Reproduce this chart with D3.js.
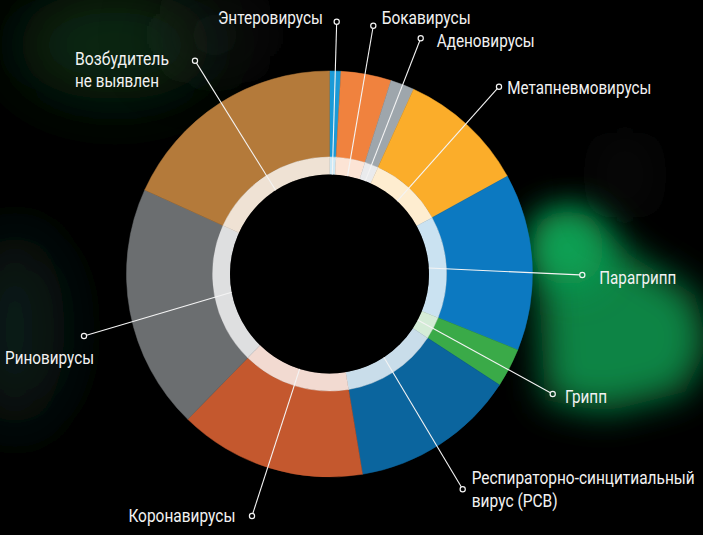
<!DOCTYPE html>
<html><head><meta charset="utf-8">
<script src="https://cdn.jsdelivr.net/npm/d3@7"></script>
<style>html,body{margin:0;padding:0;background:#000;overflow:hidden}</style>
</head><body>
<svg id="c" width="703" height="535"></svg>
<script>
const categories = ["Энтеровирусы","Бокавирусы","Аденовирусы","Метапневмовирусы","Парагрипп","Грипп","Респираторно-синцитиальный вирус (РСВ)","Коронавирусы","Риновирусы","Возбудитель не выявлен"];
const shares = [0.9, 4.0, 1.9, 10.2, 14.1, 3.1, 13.2, 14.9, 19.5, 18.2];
const colors = ["#1b9ad7","#f0823e","#9ea6ac","#fbad2a","#0c79c1","#3aaa48","#0b659e","#c4582e","#6b6e70","#b47a3a"];
const labelLines = [["Энтеровирусы"],["Бокавирусы"],["Аденовирусы"],["Метапневмовирусы"],["Парагрипп"],["Грипп"],["Респираторно-синцитиальный","вирус (РСВ)"],["Коронавирусы"],["Риновирусы"],["Возбудитель","не выявлен"]];
// label layout: marker centre, text position, anchor, line widths
const labelLayout = [
 {mx:336.7,my:21.7, tx:323,   ty:24,   anchor:"end",   w:[105]},
 {mx:373.3,my:25.7, tx:381.7, ty:24,   anchor:"start", w:[89]},
 {mx:420.7,my:38.3, tx:436.7, ty:46.5, anchor:"start", w:[98]},
 {mx:499,  my:86.7, tx:507.3, ty:94,   anchor:"start", w:[144]},
 {mx:582.3,my:275,  tx:599.3, ty:284,  anchor:"start", w:[77]},
 {mx:552.7,my:394,  tx:565,   ty:402.5,anchor:"start", w:[42]},
 {mx:462.7,my:489.3,tx:471.7, ty:484,  anchor:"start", w:[223,86]},
 {mx:252,  my:516,  tx:235.4, ty:521.5,anchor:"end",   w:[107]},
 {mx:84,   my:336,  tx:5,     ty:364,  anchor:"start", w:[89]},
 {mx:195,  my:60.7, tx:75,    ty:64.5, anchor:"start", w:[94,84]}
];

const W = 703, H = 535, cx = 329.5, cy = 274;
const rOuter = 203, rMid = 117, rInner = 99.5;
const svg = d3.select("#c");
svg.append("rect").attr("width", W).attr("height", H).attr("fill", "#000");

// background blurred blobs
const defs = svg.append("defs");
[["b1",18],["b2",32],["b3",26]].forEach(([id,s]) => {
  defs.append("filter").attr("id", id).attr("filterUnits","userSpaceOnUse")
    .attr("x",-200).attr("y",-200).attr("width",1100).attr("height",935)
    .append("feGaussianBlur").attr("stdDeviation", s);
});
const bg = svg.append("g");
bg.append("ellipse").attr("cx",115).attr("cy",45).attr("rx",100).attr("ry",55).attr("fill","#0a3219").attr("opacity",0.85).attr("filter","url(#b2)");
bg.append("ellipse").attr("cx",215).attr("cy",35).attr("rx",55).attr("ry",30).attr("fill","#1a1d1c").attr("opacity",0.7).attr("filter","url(#b2)");
bg.append("ellipse").attr("cx",15).attr("cy",330).attr("rx",50).attr("ry",100).attr("fill","#10241a").attr("opacity",0.85).attr("filter","url(#b2)");
bg.append("path").attr("d","M535,220 L590,212 L630,255 L695,295 L708,345 L685,392 L605,412 L545,400 Z").attr("fill","#0a8445").attr("filter","url(#b1)");
bg.append("ellipse").attr("cx",568).attr("cy",248).attr("rx",36).attr("ry",38).attr("fill","#10a255").attr("filter","url(#b1)");
bg.append("ellipse").attr("cx",625).attr("cy",175).attr("rx",18).attr("ry",45).attr("fill","#1c1e1e").attr("opacity",0.6).attr("filter","url(#b3)");

const g = svg.append("g").attr("transform", `translate(${cx},${cy})`);
const pie = d3.pie().sort(null).value(d => d)(shares);
const arcOuter = d3.arc().innerRadius(rMid).outerRadius(rOuter);
const arcRing = d3.arc().innerRadius(rInner).outerRadius(rMid);
g.selectAll("path.seg").data(pie).join("path").attr("class","seg")
  .attr("d", arcOuter).attr("fill", (d,i) => colors[i])
  .attr("stroke", (d,i) => colors[i]).attr("stroke-width", 0.5);
g.selectAll("path.ring").data(pie).join("path").attr("class","ring")
  .attr("d", arcRing).attr("fill", (d,i) => d3.interpolateRgb(colors[i], "#ffffff")(0.78))
  .attr("stroke", (d,i) => d3.interpolateRgb(colors[i], "#ffffff")(0.78)).attr("stroke-width", 0.5);
g.append("circle").attr("r", rInner).attr("fill", "#000");

// leader lines, markers, labels
const mr = 2.6;
pie.forEach((d,i) => {
  const a = (d.startAngle + d.endAngle) / 2;
  const L = labelLayout[i];
  const x0 = cx + rInner * Math.sin(a), y0 = cy - rInner * Math.cos(a);
  const dx = L.mx - x0, dy = L.my - y0, len = Math.hypot(dx, dy);
  svg.append("line").attr("x1", x0).attr("y1", y0)
    .attr("x2", L.mx - dx / len * mr).attr("y2", L.my - dy / len * mr)
    .attr("stroke", "#f4f4f4").attr("stroke-width", 1.1);
  svg.append("circle").attr("cx", L.mx).attr("cy", L.my).attr("r", mr)
    .attr("fill", "none").attr("stroke", "#f4f4f4").attr("stroke-width", 1.2);
  labelLines[i].forEach((s, k) => {
    svg.append("text").attr("x", L.tx).attr("y", L.ty + k * 22.5).attr("text-anchor", L.anchor)
      .attr("fill", "#f2f2f2").attr("font-family", "Roboto,'Liberation Sans',sans-serif")
      .attr("font-size", 17.5)
      .attr("textLength", L.w[k]).attr("lengthAdjust", "spacingAndGlyphs")
      .text(s);
  });
});
</script>
</body></html>
